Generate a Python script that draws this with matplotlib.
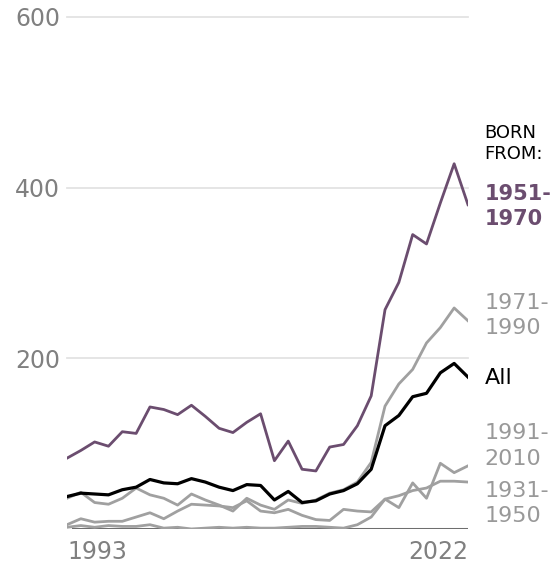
import matplotlib

matplotlib.use("Agg")
import matplotlib.pyplot as plt

years = list(range(1993, 2023))

born_1951_1970 = [83, 92, 102, 97, 114, 112, 143, 140, 134, 145,
                  132, 118, 113, 125, 135, 80, 103, 70, 68, 96,
                  99, 121, 156, 257, 289, 345, 334, 382, 428, 380]
born_all = [38, 42, 41, 40, 46, 49, 58, 54, 53, 59,
            55, 49, 45, 52, 51, 34, 44, 31, 33, 41,
            45, 53, 70, 121, 133, 155, 159, 183, 194, 178]
born_1971_1990 = [36, 43, 31, 29, 36, 48, 40, 36, 28, 41,
                  34, 28, 21, 36, 28, 23, 34, 30, 34, 42,
                  46, 55, 78, 144, 170, 187, 218, 236, 259, 244]
born_1991_2010 = [5, 12, 8, 9, 9, 14, 19, 12, 21, 29,
                  28, 27, 25, 33, 21, 19, 23, 16, 11, 10,
                  23, 21, 20, 35, 25, 54, 36, 77, 66, 74]
born_1931_1950 = [2, 4, 2, 4, 3, 3, 5, 1, 2, 0,
                  1, 2, 1, 2, 1, 1, 2, 3, 3, 2,
                  1, 5, 14, 35, 39, 45, 48, 56, 56, 55]

y_ticks = [200, 400, 600]
x_ticks = [1993, 2022]

PURPLE = "#6b4d6f"
GRAY = "#a0a0a0"

fig = plt.figure(figsize=(5.56, 5.66), dpi=100)
ax = fig.add_axes([0.1205, 0.0654, 0.7212, 0.9046])
ax.set_xlim(years[0], years[-1])
ax.set_ylim(0, 600)

for v in y_ticks:
    ax.axhline(v, color="#e3e3e3", lw=1.3, zorder=0, clip_on=False)
ax.axhline(0, xmin=0.015, xmax=0.998, color="#6e6e6e", lw=2.2, zorder=1)

ax.plot(years, born_1931_1950, color=GRAY, lw=2.0, zorder=2)
ax.plot(years, born_1991_2010, color=GRAY, lw=2.0, zorder=2)
ax.plot(years, born_1971_1990, color=GRAY, lw=2.0, zorder=3)
ax.plot(years, born_1951_1970, color=PURPLE, lw=2.0, zorder=4)
ax.plot(years, born_all, color="black", lw=2.3, zorder=5)

# right-hand labels (placed to avoid overlap, not exactly at line ends)
labels = [
    ("1951-\n1970", 378, PURPLE, "bold", 15),
    ("1971-\n1990", 250, "#999999", "normal", 16),
    ("All", 177, "black", "normal", 16),
    ("1991-\n2010", 97, "#999999", "normal", 16),
    ("1931-\n1950", 30, "#999999", "normal", 16),
]
for text, yv, col, wt, fs in labels:
    ax.annotate(text, xy=(years[-1], yv), xytext=(12, 0),
                textcoords="offset points", va="center", ha="left",
                color=col, fontweight=wt, fontsize=fs,
                linespacing=1.35, annotation_clip=False)
ax.annotate("BORN\nFROM:", xy=(years[-1], 452), xytext=(12, 0),
            textcoords="offset points", va="center", ha="left",
            color="black", fontsize=13, linespacing=1.25,
            annotation_clip=False)

ax.set_yticks(y_ticks)
ax.set_yticklabels([str(v) for v in y_ticks])
ax.set_xticks(x_ticks)
ax.set_xticklabels([str(v) for v in x_ticks])
xl = ax.get_xticklabels()
xl[0].set_ha("left")
xl[-1].set_ha("right")
ax.tick_params(axis="y", length=0, pad=5, labelsize=17, labelcolor="#808080")
ax.tick_params(axis="x", length=0, pad=8, labelsize=17, labelcolor="#808080")
for s in ax.spines.values():
    s.set_visible(False)

fig.savefig("out.png", dpi=100)
